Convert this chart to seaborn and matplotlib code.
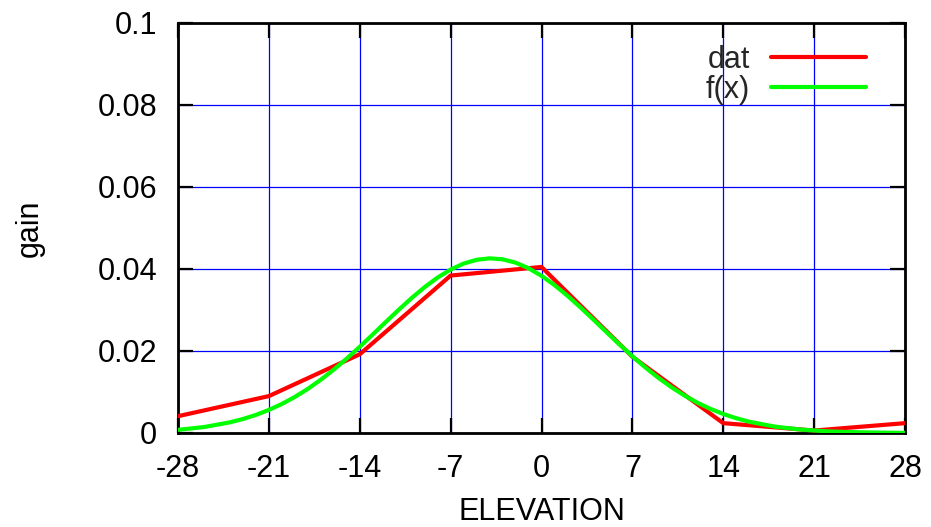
import matplotlib
matplotlib.use("Agg")
import matplotlib.pyplot as plt
import seaborn as sns
import pandas as pd

# measured data (red)
dat_x = [-28, -21, -14, -7, 0, 7, 14, 21, 28]
dat_y = [0.0041, 0.0090, 0.0192, 0.0384, 0.0405, 0.0186, 0.0024, 0.0006, 0.0024]

# fitted curve f(x) (green)
fx_x = [-28, -26, -24, -23, -22, -21, -20, -19, -18, -17, -16, -15, -14, -13,
        -12, -11, -10, -9, -8, -7, -6, -5, -4, -3, -2, -1, 0, 1, 2, 3, 4, 5,
        6, 7, 8, 9, 10, 11, 12, 13, 14, 15, 16, 18, 20, 22, 24, 26, 28]
fx_y = [0.00077, 0.00145, 0.00260, 0.00341, 0.00441, 0.00563, 0.00708, 0.00879,
        0.01076, 0.01299, 0.01547, 0.01816, 0.02103, 0.02402, 0.02706, 0.03005,
        0.03293, 0.03558, 0.03792, 0.03986, 0.04132, 0.04224, 0.04260, 0.04236,
        0.04155, 0.04019, 0.03834, 0.03608, 0.03348, 0.03064, 0.02766, 0.02462,
        0.02162, 0.01872, 0.01599, 0.01347, 0.01119, 0.00917, 0.00740, 0.00590,
        0.00464, 0.00360, 0.00275, 0.00154, 0.00082, 0.00041, 0.00020, 0.00009,
        0.00004]

x_ticks = [-28, -21, -14, -7, 0, 7, 14, 21, 28]
y_ticks = [0, 0.02, 0.04, 0.06, 0.08, 0.1]
y_tick_labels = ["0", "0.02", "0.04", "0.06", "0.08", "0.1"]

sns.set_theme(style="white")
plt.rcParams["font.family"] = ["Liberation Sans", "DejaVu Sans"]

FS = 22
fig = plt.figure(figsize=(9.31, 5.27), dpi=100)
ax = fig.add_axes([178 / 931, 1 - 433 / 527, 727 / 931, 410 / 527])

df_dat = pd.DataFrame({"x": dat_x, "y": dat_y})
df_fx = pd.DataFrame({"x": fx_x, "y": fx_y})
sns.lineplot(data=df_dat, x="x", y="y", ax=ax, color="#ff0000", lw=3, label="dat",
             zorder=3)
sns.lineplot(data=df_fx, x="x", y="y", ax=ax, color="#00ff00", lw=3, label="f(x)",
             zorder=4)

ax.set_xlim(-28, 28)
ax.set_ylim(0, 0.1)
ax.set_xticks(x_ticks)
ax.set_xticklabels([str(t) for t in x_ticks])
ax.set_yticks(y_ticks)
ax.set_yticklabels(y_tick_labels)

ax.grid(True, color="#0000ff", lw=0.9)
ax.set_axisbelow(True)
for s in ax.spines.values():
    s.set_visible(True)
    s.set_color("black")
    s.set_linewidth(2)

ax.tick_params(axis="both", which="major", direction="in", length=11, width=1.6,
               color="black", labelsize=FS, labelcolor="black",
               top=True, right=True, bottom=True, left=True, pad=15)

ax.set_xlabel("ELEVATION", fontsize=FS, color="black")
ax.set_ylabel("gain", fontsize=FS, color="black")
ax.xaxis.set_label_coords(0.5, -0.155)
ax.yaxis.set_label_coords(-0.183, 0.5)

leg = ax.legend(loc="upper right", bbox_to_anchor=(0.9464, 0.947), frameon=False,
                fontsize=FS, markerfirst=False, handlelength=3.1, handletextpad=0.7,
                borderaxespad=0, borderpad=0, labelspacing=0.0)
for h in leg.get_lines():
    h.set_linewidth(3)

fig.savefig("out.png", dpi=100)
